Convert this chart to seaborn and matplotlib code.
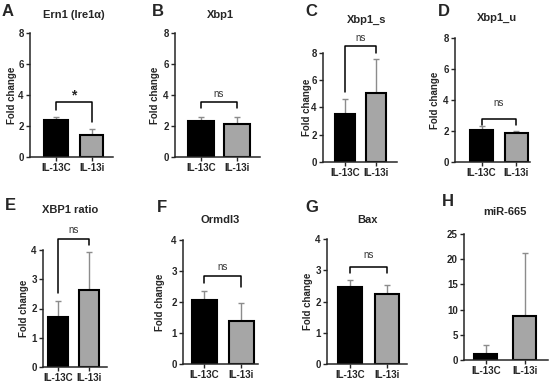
import matplotlib
matplotlib.use("Agg")
import matplotlib.pyplot as plt
import seaborn as sns

# Data (mean fold change and upward SEM)
groups = ["IL-13C", "IL-13i"]
letters = ["A", "B", "C", "D", "E", "F", "G", "H"]
titles = ["Ern1 (Ire1α)", "Xbp1", "Xbp1_s", "Xbp1_u",
          "XBP1 ratio", "Ormdl3", "Bax", "miR-665"]
means = [
    [2.40, 1.45],
    [2.30, 2.15],
    [3.55, 5.10],
    [2.05, 1.90],
    [1.72, 2.62],
    [2.07, 1.38],
    [2.45, 2.23],
    [1.20, 8.80],
]
errors = [
    [0.20, 0.35],
    [0.30, 0.40],
    [1.10, 2.45],
    [0.30, 0.07],
    [0.55, 1.30],
    [0.30, 0.59],
    [0.25, 0.30],
    [1.70, 12.40],
]
y_max = [8, 8, 8, 8, 4, 4, 4, 25]
y_step = [2, 2, 2, 2, 1, 1, 1, 5]
# significance: label, bracket top, left leg end, right leg end, label y
sig_labels = ["*", "ns", "ns", "ns", "ns", "ns", "ns", None]
sig_top = [3.53, 3.55, 8.5, 2.77, 4.38, 2.84, 3.1, None]
sig_left = [3.03, 3.15, 5.15, 2.4, 2.53, 2.6, 2.9, None]
sig_right = [2.28, 3.15, 8.0, 2.4, 4.17, 2.5, 2.9, None]
sig_text_y = [4.0, 4.06, 9.1, 3.8, 4.7, 3.13, 3.49, None]

# layout in pixels: spine x, top y, axis end x, bottom y, xlim, bar width
layout = [
    (30, 33, 113, 157, (-0.73, 1.60), 0.65),
    (175, 33, 260, 157, (-0.72, 1.64), 0.72),
    (323, 53, 397, 162, (-0.72, 1.70), 0.66),
    (455, 38, 530, 162, (-0.76, 1.39), 0.66),
    (43, 250, 107, 367, (-0.48, 1.58), 0.65),
    (183, 240, 258, 364, (-0.58, 1.45), 0.68),
    (327, 239, 407, 364, (-0.62, 1.54), 0.65),
    (464, 234, 548, 360, (-0.56, 1.60), 0.60),
]
title_pos = [(74, 15), (220, 15), (367, 20), (497, 18),
             (70, 210), (220, 220), (367, 220), (505, 212)]
letter_pos = [(2, 12), (152, 12), (305, 12), (438, 12),
              (5, 205), (157, 207), (305, 207), (442, 202)]
ylabel_x = [12, 155, 307, 435, 24, 160, 308, None]

sns.set_style("ticks")
plt.rcParams["font.family"] = ["Liberation Sans", "DejaVu Sans"]
plt.rcParams["font.weight"] = "bold"

W, H = 550, 382
fig = plt.figure(figsize=(5.5, 3.82), dpi=100)
fig.patch.set_facecolor("white")

palette = ["black", "#a6a6a6"]

for i in range(8):
    sx, ty, ex, by, xl, bw = layout[i]
    ax = fig.add_axes([sx / W, (H - by) / H, (ex - sx) / W, (by - ty) / H])
    ax.errorbar([0, 1], means[i], yerr=[[0, 0], errors[i]], fmt="none",
                ecolor="#8c8c8c", elinewidth=1, capsize=2.5, capthick=1,
                zorder=1)
    sns.barplot(x=groups, y=means[i], hue=groups, palette=palette,
                legend=False, width=bw, edgecolor="black", linewidth=1.5,
                ax=ax, zorder=2)
    ax.set_xlim(*xl)
    ax.set_ylim(0, y_max[i])
    ax.set_yticks(range(0, y_max[i] + 1, y_step[i]))
    ax.tick_params(axis="both", labelsize=7, width=1, length=3, pad=1.5)
    for lab in ax.get_xticklabels() + ax.get_yticklabels():
        lab.set_fontweight("bold")
    ax.set_xlabel("")
    ax.set_ylabel("")
    sns.despine(ax=ax)
    for s in ["left", "bottom"]:
        ax.spines[s].set_linewidth(1.1)
    ax.patch.set_alpha(0)

    if sig_labels[i] is not None:
        ax.plot([0, 0, 1, 1], [sig_left[i], sig_top[i], sig_top[i], sig_right[i]],
                color="black", lw=1.1, clip_on=False)
        if sig_labels[i] == "*":
            ax.text(0.5, sig_text_y[i], "*", ha="center", va="center",
                    fontsize=10, fontweight="bold", clip_on=False)
        else:
            ax.text(0.5, sig_text_y[i], "ns", ha="center", va="center",
                    fontsize=7, fontweight="normal", color="#333333",
                    clip_on=False)

    tx, tyy = title_pos[i]
    fig.text(tx / W, 1 - tyy / H, titles[i], ha="center", va="center",
             fontsize=8, fontweight="bold")
    lx, lyy = letter_pos[i]
    fig.text(lx / W, 1 - lyy / H, letters[i], ha="left", va="center",
             fontsize=12, fontweight="bold")
    if ylabel_x[i] is not None:
        fig.text(ylabel_x[i] / W, 1 - ((ty + by) / 2) / H, "Fold change",
                 rotation=90, ha="center", va="center", fontsize=7,
                 fontweight="bold")

fig.savefig("out.png", dpi=100)
